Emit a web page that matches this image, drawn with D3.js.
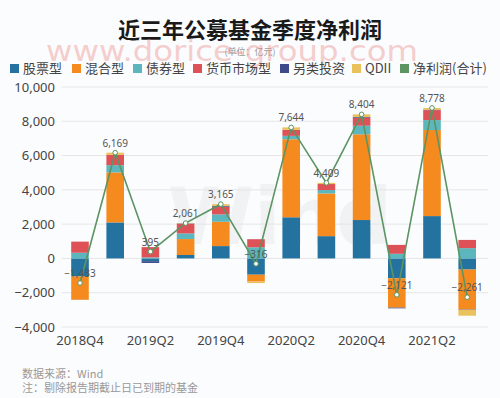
<!DOCTYPE html>
<html><head><meta charset="utf-8">
<script src="https://cdn.jsdelivr.net/npm/d3@7"></script>
<style>
html,body{margin:0;padding:0;background:#fbfcfe;}
svg{display:block;font-family:"Noto Sans CJK SC","Noto Sans",sans-serif;}
</style></head>
<body><svg id="c" width="500" height="398"></svg>
<script>
const quarters = ["2018Q4","2019Q1","2019Q2","2019Q3","2019Q4","2020Q1","2020Q2","2020Q3","2020Q4","2021Q1","2021Q2","2021Q3"];
const tickQuarters = ["2018Q4","2019Q2","2019Q4","2020Q2","2020Q4","2021Q2"];
const stock  = [-1050, 2100, -160, 200,  720, -950, 2400, 1300, 2240, -1160, 2470,  -650];
const mixed  = [-1360, 2920,    0, 930, 1420, -400, 4550, 2490, 5000, -1710, 5020, -2330];
const bond   = [  330,  420,   60, 330,  430,  650,  200,  200,  500,   270,  580,   600];
const money  = [  650,  600,  600, 560,  450,  470,  350,  350,  460,   520,  580,   480];
const alt    = [   -3,    0, -105,  20,   45,    4,    4,    0,   44,   -41,   28,   -21];
const qdii   = [    0,  129,    0,  21,  100,  -90,  140,   69,  160,     0,  100,  -340];
const netProfit = [-1433, 6169, 395, 2061, 3165, -316, 7644, 4409, 8404, -2121, 8778, -2261];
const yTicks = [-4000,-2000,0,2000,4000,6000,8000,10000];
const seriesNames = ["股票型","混合型","债券型","货币市场型","另类投资","QDII"];
const seriesColors = ["#23729f","#f58a1f","#5cb6bd","#de5257","#3f4a8a","#e9c25c"];
const lineName = "净利润(合计)";
const lineColor = "#5c9462";

const svg = d3.select("#c");
const x = d3.scaleBand().domain(quarters).range([62.4, 484.8]).paddingInner(0.5).paddingOuter(0.25);
const y = d3.scaleLinear().domain([-4000, 10000]).range([327, 87]);

// title
svg.append("text").attr("x", 250).attr("y", 38).attr("text-anchor","middle")
  .attr("font-size", 22).attr("font-weight", "bold").attr("fill", "#1a1a1a").text("近三年公募基金季度净利润");
svg.append("text").attr("x", 250).attr("y", 55).attr("text-anchor","middle")
  .attr("font-size", 9).attr("fill", "#999").text("(单位：亿元)");
// watermark
svg.append("text").attr("x", 232).attr("y", 61).attr("text-anchor","middle")
  .attr("font-size", 28).attr("fill", "#ec8a86").attr("opacity", 0.4)
  .attr("textLength", 372).attr("lengthAdjust","spacingAndGlyphs")
  .attr("font-family","'DejaVu Sans',sans-serif").text("www.dorice-group.com");

// legend
const legendItems = seriesNames.map((n,i)=>({n, c: seriesColors[i]})).concat([{n: lineName, c: lineColor}]);
const legendX = [10, 72, 133, 193, 280, 352, 400];
const lg = svg.append("g");
legendItems.forEach((d,i)=>{
  const g = lg.append("g").attr("transform", `translate(${legendX[i]},0)`);
  g.append("rect").attr("x",0).attr("y",64).attr("width",9).attr("height",9).attr("fill",d.c);
  g.append("text").attr("x",13).attr("y",73).attr("font-size",13).attr("fill","#444").text(d.n);
});

// Wind watermark
svg.append("text").attr("x", 280).attr("y", 244).attr("text-anchor","middle")
  .attr("font-size", 78).attr("font-weight","bold").attr("fill","#e6e6e6").attr("opacity",0.45)
  .attr("font-family","'DejaVu Sans',sans-serif").text("Wind");

// grid
svg.append("g").selectAll("line").data(yTicks).join("line")
  .attr("x1", 62).attr("x2", 488).attr("y1", d=>y(d)).attr("y2", d=>y(d))
  .attr("stroke", "#e6e6e6").attr("stroke-width", 1);

// y axis
const yAxis = svg.append("g").attr("transform","translate(58,0)")
  .call(d3.axisLeft(y).tickValues(yTicks).tickSize(0).tickFormat(d3.format(",")));
yAxis.select(".domain").remove();
yAxis.selectAll("text").attr("font-size",13).attr("fill","#444").attr("font-family","'Noto Sans',sans-serif");

// x axis
const xAxis = svg.append("g").attr("transform","translate(0,330)")
  .call(d3.axisBottom(x).tickValues(tickQuarters).tickSize(0));
xAxis.select(".domain").remove();
xAxis.selectAll("text").attr("font-size",13).attr("fill","#444").attr("font-family","'Noto Sans',sans-serif").attr("dy","0.9em");

// stacked bars
const rows = quarters.map((q,i)=>({q, s0: stock[i], s1: mixed[i], s2: bond[i], s3: money[i], s4: alt[i], s5: qdii[i]}));
const keys = ["s0","s1","s2","s3","s4","s5"];
const stacked = d3.stack().keys(keys).offset(d3.stackOffsetDiverging)(rows);
svg.append("g").selectAll("g").data(stacked).join("g").attr("fill",(d,i)=>seriesColors[i])
  .selectAll("rect").data(d=>d).join("rect")
  .attr("x", d=>x(d.data.q)).attr("width", x.bandwidth())
  .attr("y", d=>y(Math.max(d[0],d[1]))).attr("height", d=>Math.abs(y(d[0])-y(d[1])));

// line
const pts = quarters.map((q,i)=>({q, v: netProfit[i]}));
svg.append("path").datum(pts)
  .attr("d", d3.line().x(d=>x(d.q)+x.bandwidth()/2).y(d=>y(d.v)))
  .attr("fill","none").attr("stroke", lineColor).attr("stroke-width", 1.6);
svg.append("g").selectAll("circle").data(pts).join("circle")
  .attr("cx", d=>x(d.q)+x.bandwidth()/2).attr("cy", d=>y(d.v)).attr("r", 2.3)
  .attr("fill","#fff").attr("stroke", lineColor).attr("stroke-width", 1);
svg.append("g").selectAll("text").data(pts).join("text")
  .attr("x", d=>x(d.q)+x.bandwidth()/2).attr("y", d=>y(d.v)-6)
  .attr("text-anchor","middle").attr("font-size",10).attr("fill","#555")
  .attr("font-family","'Noto Sans',sans-serif")
  .text(d=>d3.format(",")(d.v));

// footer
svg.append("text").attr("x",22).attr("y",378).attr("font-size",11).attr("fill","#999").text("数据来源：Wind");
svg.append("text").attr("x",22).attr("y",392).attr("font-size",11).attr("fill","#999").text("注：剔除报告期截止日已到期的基金");
</script></body></html>
